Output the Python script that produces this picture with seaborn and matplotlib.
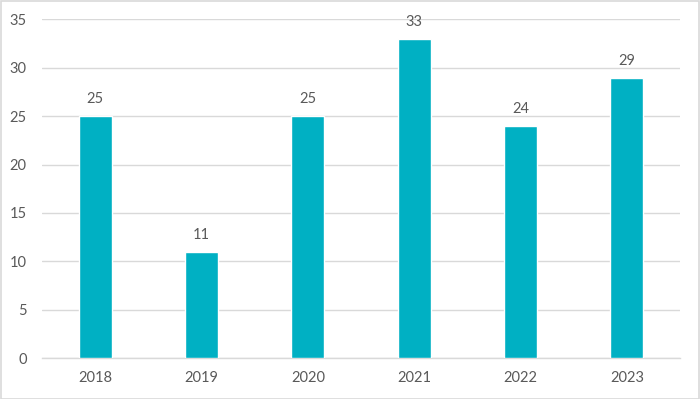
import matplotlib
matplotlib.use("Agg")
import matplotlib.pyplot as plt
import pandas as pd
import seaborn as sns

# Chart data
years = ["2018", "2019", "2020", "2021", "2022", "2023"]
counts = [25, 11, 25, 33, 24, 29]
y_ticks = [0, 5, 10, 15, 20, 25, 30, 35]

bar_color = "#00B0C3"
text_color = "#595959"
grid_color = "#D9D9D9"

df = pd.DataFrame({"year": years, "count": counts})

sns.set_style("white")
plt.rcParams["font.family"] = ["Lato", "DejaVu Sans"]

fig = plt.figure(figsize=(7, 3.99), dpi=100)
ax = fig.add_axes([42 / 700, 1 - 358 / 399, 638 / 700, 338.5 / 399])

sns.barplot(data=df, x="year", y="count", color=bar_color, width=0.31,
            saturation=1, ax=ax, zorder=3)

ax.set_ylim(0, 35)
ax.set_yticks(y_ticks)
ax.set_xlim(-0.5, len(years) - 0.5)
ax.yaxis.grid(True, color=grid_color, linewidth=1, zorder=0)
ax.set_axisbelow(True)
for side in ["top", "right", "left"]:
    ax.spines[side].set_visible(False)
ax.spines["bottom"].set_color(grid_color)
ax.spines["bottom"].set_linewidth(1)
ax.tick_params(axis="both", length=0, labelsize=10.5, colors=text_color)
ax.tick_params(axis="x", pad=9)
ax.tick_params(axis="y", pad=11)
ax.set_xlabel("")
ax.set_ylabel("")

for i, v in enumerate(counts):
    ax.annotate(str(v), xy=(i, v), xytext=(0, 7), textcoords="offset points",
                ha="center", va="bottom", fontsize=10.5, color=text_color)

# Light border around the whole chart
fig.patches.append(plt.Rectangle((0.001, 0.001), 0.998, 0.997, transform=fig.transFigure,
                                 fill=False, edgecolor=grid_color, linewidth=1.2))

fig.savefig("out.png", dpi=100)
plt.close(fig)
